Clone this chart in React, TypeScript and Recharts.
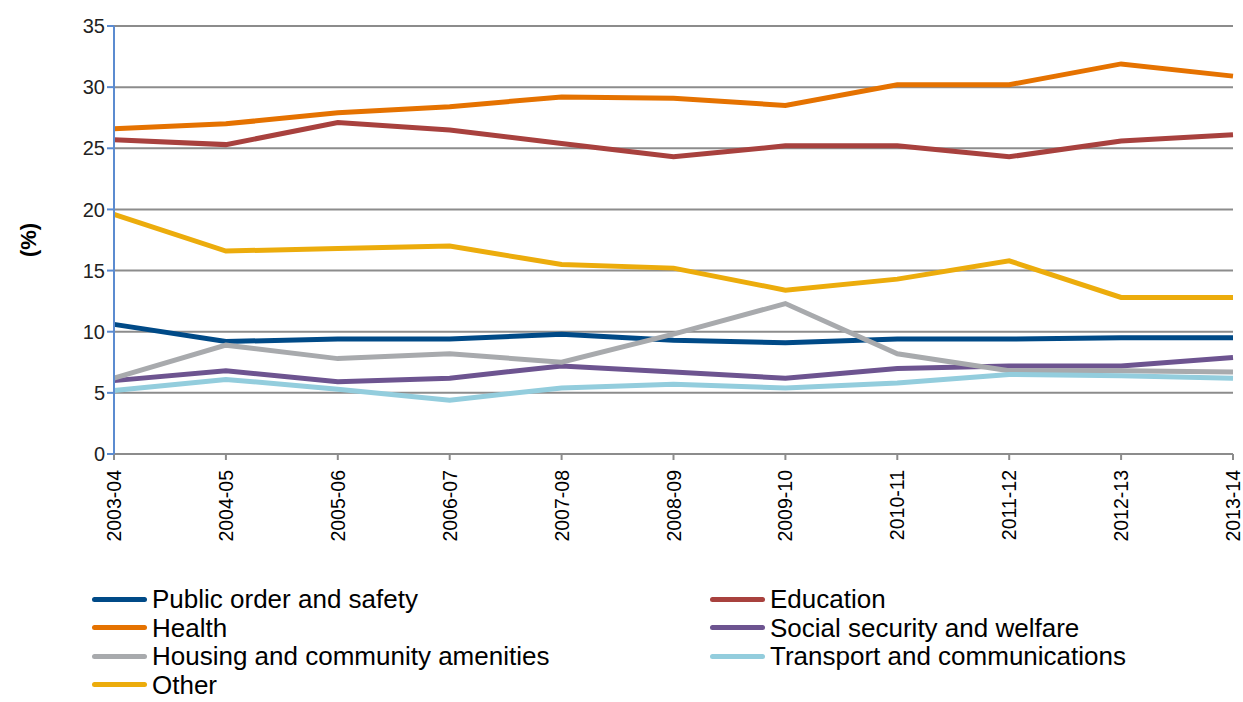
import { LineChart, Line, XAxis, YAxis, CartesianGrid } from "recharts";

const YEARS = [
  "2003-04", "2004-05", "2005-06", "2006-07", "2007-08", "2008-09",
  "2009-10", "2010-11", "2011-12", "2012-13", "2013-14",
];

const publicOrder = [10.6, 9.2, 9.4, 9.4, 9.8, 9.3, 9.1, 9.4, 9.4, 9.5, 9.5];
const education = [25.7, 25.3, 27.1, 26.5, 25.4, 24.3, 25.2, 25.2, 24.3, 25.6, 26.1];
const health = [26.6, 27.0, 27.9, 28.4, 29.2, 29.1, 28.5, 30.2, 30.2, 31.9, 30.9];
const socialSecurity = [6.0, 6.8, 5.9, 6.2, 7.2, 6.7, 6.2, 7.0, 7.2, 7.2, 7.9];
const housing = [6.2, 8.9, 7.8, 8.2, 7.5, 9.8, 12.3, 8.2, 6.8, 6.8, 6.7];
const transport = [5.2, 6.1, 5.3, 4.4, 5.4, 5.7, 5.4, 5.8, 6.5, 6.4, 6.2];
const other = [19.6, 16.6, 16.8, 17.0, 15.5, 15.2, 13.4, 14.3, 15.8, 12.8, 12.8];

const Y_TICKS = [0, 5, 10, 15, 20, 25, 30, 35];

// legend order is row by row, two columns
const SERIES = [
  { key: "publicOrder", name: "Public order and safety", color: "#004a87", values: publicOrder },
  { key: "education", name: "Education", color: "#a8413e", values: education },
  { key: "health", name: "Health", color: "#e57200", values: health },
  { key: "socialSecurity", name: "Social security and welfare", color: "#6d5490", values: socialSecurity },
  { key: "housing", name: "Housing and community amenities", color: "#a8aaad", values: housing },
  { key: "transport", name: "Transport and communications", color: "#93cddd", values: transport },
  { key: "other", name: "Other", color: "#ecac0c", values: other },
];

const data = YEARS.map((year, i) => {
  const row: Record<string, string | number> = { year };
  SERIES.forEach((s) => {
    row[s.key] = s.values[i];
  });
  return row;
});

const FONT = "'Liberation Sans', Arial, sans-serif";

const XTick = (props: any) => {
  const { x, y, payload } = props;
  return (
    <text
      x={x}
      y={y + 8}
      transform={`rotate(-90, ${x}, ${y + 8})`}
      textAnchor="end"
      dy="0.36em"
      fill="#000"
      fontSize={19.5}
      fontFamily={FONT}
    >
      {payload.value}
    </text>
  );
};

export default function App() {
  return (
    <div style={{ position: "absolute", left: 0, top: 0, width: 1243, height: 702, background: "#fff" }}>
      <LineChart
        width={1243}
        height={702}
        data={data}
        margin={{ top: 26, right: 10, left: 54, bottom: 148 }}
      >
        <CartesianGrid vertical={false} stroke="#8c8c8c" strokeWidth={2} />
        <XAxis
          dataKey="year"
          interval={0}
          height={100}
          tick={<XTick />}
          axisLine={{ stroke: "#8c8c8c", strokeWidth: 2 }}
          tickLine={{ stroke: "#8c8c8c", strokeWidth: 2 }}
          tickSize={6}
        />
        <YAxis
          domain={[0, 35]}
          ticks={Y_TICKS}
          width={60}
          interval={0}
          axisLine={{ stroke: "#5b8bd0", strokeWidth: 2 }}
          tickLine={{ stroke: "#5b8bd0", strokeWidth: 2 }}
          tickSize={7}
          tick={{ fill: "#222", fontSize: 20, fontFamily: FONT }}
          label={{
            value: "(%)",
            angle: -90,
            position: "insideLeft",
            offset: -26,
            style: {
              fontSize: 22,
              fontWeight: "bold",
              fill: "#000",
              fontFamily: FONT,
              textAnchor: "middle",
            },
          }}
        />
        {SERIES.map((s) => (
          <Line
            key={s.key}
            type="linear"
            dataKey={s.key}
            name={s.name}
            stroke={s.color}
            strokeWidth={5}
            dot={false}
            activeDot={false}
            isAnimationActive={false}
          />
        ))}
      </LineChart>
      <div
        style={{
          position: "absolute",
          left: 92,
          top: 585,
          display: "grid",
          gridTemplateColumns: "618px 520px",
          fontFamily: FONT,
          fontSize: 26,
          lineHeight: 1,
          color: "#000",
        }}
      >
        {SERIES.map((s) => (
          <div key={s.key} style={{ display: "flex", alignItems: "center", height: 28.5 }}>
            <span
              style={{
                display: "inline-block",
                width: 55,
                height: 5,
                borderRadius: 3,
                background: s.color,
                marginRight: 5,
              }}
            />
            <span style={{ whiteSpace: "nowrap" }}>{s.name}</span>
          </div>
        ))}
      </div>
    </div>
  );
}
